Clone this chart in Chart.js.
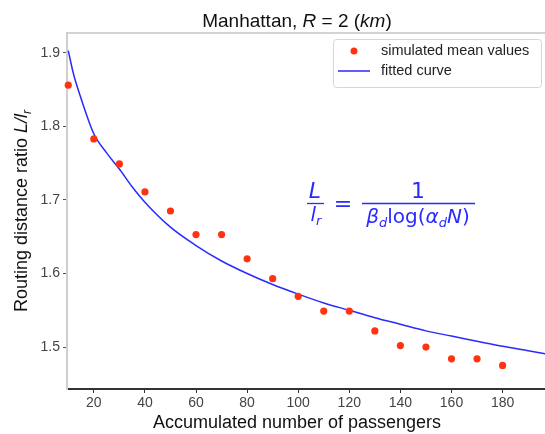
<!DOCTYPE html>
<html>
<head>
<meta charset="utf-8">
<script src="https://cdn.jsdelivr.net/npm/chart.js@4.4.0/dist/chart.umd.min.js"></script>
<style>
  html, body { margin: 0; padding: 0; background: #fff; overflow: hidden; }
  #wrap { width: 545px; height: 434px; overflow: hidden; }
</style>
</head>
<body>
<div id="wrap"><canvas id="ratioChart" width="549" height="434"></canvas></div>
<script>
// simulated mean values
const passengers = [10, 20, 30, 40, 50, 60, 70, 80, 90, 100, 110, 120, 130, 140, 150, 160, 170, 180];
const meanRatio = [1.856, 1.783, 1.749, 1.711, 1.685, 1.653, 1.653, 1.620, 1.593, 1.569, 1.549, 1.549, 1.522, 1.502, 1.500, 1.484, 1.484, 1.475];

// fitted curve, sampled along the plotted line
const fitPassengers = [10, 12, 15, 20, 25, 30, 35, 40, 50, 60, 70, 80, 90, 100, 110, 120, 130, 140, 150, 160, 170, 180, 190, 200];
const fitRatio = [1.903, 1.872, 1.838, 1.790, 1.764, 1.742, 1.718, 1.697, 1.663, 1.638, 1.617, 1.600, 1.585, 1.572, 1.560, 1.550, 1.540, 1.531, 1.522, 1.515, 1.508, 1.501, 1.495, 1.489];

const xTicks = [20, 40, 60, 80, 100, 120, 140, 160, 180];
const yTicks = [1.5, 1.6, 1.7, 1.8, 1.9];

const SANS = "'Liberation Sans', Arial, sans-serif";
const MATH = "'DejaVu Sans', sans-serif";
const RED = '#ff3311';
const BLUE = '#2a2aff';

// draws a row of text pieces with different fonts, centred on x
function drawRuns(ctx, runs, x, y) {
    let total = 0;
    runs.forEach(r => { ctx.font = r.font; total += ctx.measureText(r.text).width; });
    let cx = x - total / 2;
    runs.forEach(r => {
        ctx.font = r.font;
        ctx.fillText(r.text, cx, y + (r.dy || 0));
        cx += ctx.measureText(r.text).width;
    });
}

const overlay = {
    id: 'overlay',
    afterDraw(chart) {
        const ctx = chart.ctx;
        const area = chart.chartArea;
        ctx.save();

        // top spine
        ctx.strokeStyle = '#c4c4c4';
        ctx.lineWidth = 1.5;
        ctx.beginPath();
        ctx.moveTo(area.left, area.top);
        ctx.lineTo(area.right, area.top);
        ctx.stroke();

        ctx.fillStyle = '#111';
        ctx.textBaseline = 'alphabetic';

        // title
        drawRuns(ctx, [
            { text: 'Manhattan, ', font: '19px ' + SANS },
            { text: 'R', font: 'italic 19px ' + SANS },
            { text: ' = 2 (', font: '19px ' + SANS },
            { text: 'km', font: 'italic 19px ' + SANS },
            { text: ')', font: '19px ' + SANS }
        ], 297, 27);

        // x label
        drawRuns(ctx, [{ text: 'Accumulated number of passengers', font: '18px ' + SANS }], 297, 428);

        // y label
        ctx.save();
        ctx.translate(27, 211);
        ctx.rotate(-Math.PI / 2);
        drawRuns(ctx, [
            { text: 'Routing distance ratio ', font: '18px ' + SANS },
            { text: 'L/l', font: 'italic 18px ' + SANS },
            { text: 'r', font: 'italic 12px ' + SANS, dy: 4 }
        ], 0, 0);
        ctx.restore();

        // formula
        ctx.fillStyle = BLUE;
        ctx.strokeStyle = BLUE;
        ctx.lineWidth = 1.3;
        ctx.textAlign = 'center';
        ctx.font = 'italic 22px ' + MATH;
        ctx.fillText('L', 315, 198);
        ctx.beginPath(); ctx.moveTo(307, 203.5); ctx.lineTo(324, 203.5); ctx.stroke();
        ctx.textAlign = 'left';
        drawRuns(ctx, [
            { text: 'l', font: 'italic 20px ' + MATH },
            { text: 'r', font: 'italic 13px ' + MATH, dy: 4 }
        ], 316, 221);
        ctx.textAlign = 'center';
        ctx.font = '22px ' + MATH;
        ctx.fillText('=', 343, 211);
        ctx.fillText('1', 418, 198);
        ctx.beginPath(); ctx.moveTo(362, 203.5); ctx.lineTo(475, 203.5); ctx.stroke();
        ctx.textAlign = 'left';
        drawRuns(ctx, [
            { text: 'β', font: 'italic 20px ' + MATH },
            { text: 'd', font: 'italic 13px ' + MATH, dy: 4 },
            { text: 'log(', font: '20px ' + MATH },
            { text: 'α', font: 'italic 20px ' + MATH },
            { text: 'd', font: 'italic 13px ' + MATH, dy: 4 },
            { text: 'N', font: 'italic 20px ' + MATH },
            { text: ')', font: '20px ' + MATH }
        ], 418, 223);

        // legend box
        ctx.fillStyle = 'rgba(255,255,255,0.85)';
        ctx.strokeStyle = '#d6d6d6';
        ctx.lineWidth = 1;
        ctx.beginPath();
        ctx.roundRect(333.5, 39.5, 208, 48, 3);
        ctx.fill();
        ctx.stroke();

        const sets = chart.data.datasets;
        ctx.fillStyle = RED;
        ctx.beginPath();
        ctx.arc(354, 51, 3.5, 0, Math.PI * 2);
        ctx.fill();
        ctx.strokeStyle = BLUE;
        ctx.lineWidth = 1.5;
        ctx.beginPath(); ctx.moveTo(338, 71); ctx.lineTo(370, 71); ctx.stroke();

        ctx.fillStyle = '#222';
        ctx.font = '14.5px ' + SANS;
        ctx.textBaseline = 'middle';
        ctx.fillText(sets[0].label, 381, 51);
        ctx.fillText(sets[1].label, 381, 71);

        ctx.restore();
    }
};

const ctx = document.getElementById('ratioChart').getContext('2d');

new Chart(ctx, {
    type: 'scatter',
    data: {
        datasets: [
            {
                label: 'simulated mean values',
                data: passengers.map((n, i) => ({ x: n, y: meanRatio[i] })),
                backgroundColor: RED,
                borderWidth: 0,
                pointRadius: 3.6,
                clip: false
            },
            {
                label: 'fitted curve',
                data: fitPassengers.map((n, i) => ({ x: n, y: fitRatio[i] })),
                showLine: true,
                borderColor: BLUE,
                borderWidth: 1.5,
                pointRadius: 0,
                cubicInterpolationMode: 'monotone'
            }
        ]
    },
    options: {
        responsive: false,
        animation: false,
        layout: { padding: { top: 33, left: 0, right: 0, bottom: 0 } },
        plugins: {
            legend: { display: false },
            title: { display: false },
            tooltip: { enabled: false }
        },
        scales: {
            x: {
                type: 'linear',
                min: 9.5,
                max: 196.6,
                afterBuildTicks: s => { s.ticks = xTicks.map(v => ({ value: v })); },
                afterFit: s => { s.height = 45; },
                grid: { display: true, drawOnChartArea: false, drawTicks: true, tickLength: 4, color: '#333' },
                border: { display: true, color: '#333', width: 2 },
                ticks: { color: '#444', padding: 2, font: { family: SANS, size: 14 } }
            },
            y: {
                min: 1.443,
                max: 1.927,
                afterBuildTicks: s => { s.ticks = yTicks.map(v => ({ value: v })); },
                afterFit: s => { s.width = 67; },
                grid: { display: true, drawOnChartArea: false, drawTicks: true, tickLength: 4, color: '#555' },
                border: { display: true, color: '#cfcfcf', width: 2 },
                ticks: { color: '#444', padding: 3, font: { family: SANS, size: 14 }, callback: v => v.toFixed(1) }
            }
        }
    },
    plugins: [overlay]
});
</script>
</body>
</html>
